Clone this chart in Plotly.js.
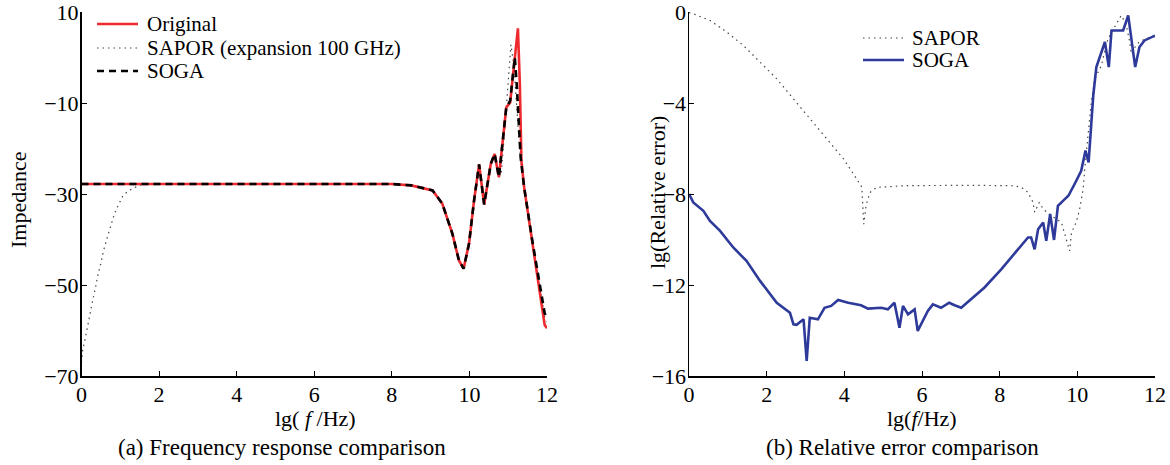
<!DOCTYPE html>
<html><head><meta charset="utf-8">
<script src="https://cdn.plot.ly/plotly-3.0.1.min.js"></script>
<style>html,body{margin:0;padding:0;background:#fff}#chart{width:1170px;height:465px}</style>
</head><body><div id="chart"></div>
<script>
// (a) Frequency response
const origX = [0, 2, 4, 6, 8.0, 8.5, 9.05, 9.3, 9.56, 9.73, 9.85, 9.99, 10.12, 10.25, 10.38, 10.55, 10.65, 10.76, 10.85, 10.95, 11.05, 11.15, 11.25, 11.30, 11.34, 11.41, 11.62, 11.94, 12];
const origY = [-27.8, -27.8, -27.8, -27.8, -27.8, -28.1, -29.2, -32.1, -38.7, -44.6, -46.4, -40.9, -31.4, -23.5, -32.3, -23.4, -21.2, -26.3, -19.0, -11.0, -9.9, -2.2, 6.4, -5.8, -22.7, -28.5, -40.2, -58.8, -59.5];
const sogaX = [0, 2, 4, 6, 8.0, 8.5, 9.05, 9.3, 9.56, 9.73, 9.85, 9.99, 10.12, 10.25, 10.38, 10.55, 10.65, 10.76, 10.85, 10.95, 11.05, 11.12, 11.17, 11.22, 11.28, 11.32, 11.41, 11.62, 11.94, 12];
const sogaY = [-27.8, -27.8, -27.8, -27.8, -27.8, -28.1, -29.2, -32.1, -38.7, -44.6, -46.4, -40.9, -31.4, -23.5, -32.3, -23.4, -21.2, -26.3, -19.0, -11.0, -9.5, -4.0, 0.0, -6.0, -16.7, -21.9, -28.5, -40.2, -56.2, -57.3];
const saporAX = [0, 0.03, 0.10, 0.16, 0.23, 0.29, 0.36, 0.42, 0.50, 0.57, 0.66, 0.75, 0.85, 0.92, 0.98, 1.06, 1.19, 1.32, 1.49, 1.75, 4, 6, 8.0, 8.5, 9.05, 9.3, 9.56, 9.73, 9.85, 9.99, 10.12, 10.25, 10.38, 10.55, 10.65, 10.76, 10.82, 10.9, 11.0, 11.07, 11.15, 11.22, 11.3, 11.41, 11.62, 11.94, 12];
const saporAY = [-67.0, -64.3, -61.6, -58.8, -56.1, -53.3, -50.6, -47.9, -45.2, -42.4, -39.7, -36.9, -34.3, -33.0, -31.8, -30.5, -29.4, -28.9, -28.1, -27.8, -27.8, -27.8, -27.8, -28.1, -29.2, -32.1, -38.7, -44.6, -46.4, -40.9, -31.4, -23.5, -32.3, -23.4, -21.2, -26.3, -25.5, -17.0, -5.0, 2.8, -2.0, -12.0, -21.0, -28.5, -40.2, -57.0, -58.0];

// (b) Relative error
const saporBX = [0, 0.1, 0.54, 0.97, 1.40, 1.83, 2.26, 2.69, 3.12, 3.55, 3.98, 4.32, 4.45, 4.5, 4.56, 4.66, 4.83, 5.6, 6.5, 7.5, 8.37, 8.55, 8.73, 8.86, 8.9, 9.02, 9.12, 9.33, 9.59, 9.8, 9.85, 9.97, 10.06, 10.15, 10.19, 10.28, 10.36, 10.45, 10.62, 10.7, 10.79, 10.96, 11.13, 11.25, 11.35, 11.39, 11.5, 11.6, 11.73, 11.97, 12];
const saporBY = [-0.03, -0.07, -0.37, -0.88, -1.47, -2.2, -2.94, -3.82, -4.7, -5.58, -6.46, -7.34, -7.7, -9.33, -8.5, -7.93, -7.71, -7.63, -7.62, -7.62, -7.64, -7.7, -7.93, -8.37, -8.8, -8.37, -8.66, -8.96, -9.25, -10.5, -9.7, -9.25, -8.66, -7.78, -6.9, -5.43, -3.96, -2.94, -2.35, -1.76, -1.18, -0.66, -0.15, -0.5, -1.32, -1.84, -1.5, -1.3, -1.2, -1.06, -1.05];
const sogaBX = [0, 0.11, 0.37, 0.54, 0.80, 1.14, 1.48, 1.83, 2.26, 2.60, 2.69, 2.77, 2.95, 3.03, 3.11, 3.32, 3.49, 3.66, 3.84, 4.10, 4.43, 4.61, 4.95, 5.12, 5.29, 5.42, 5.51, 5.64, 5.81, 5.89, 6.15, 6.28, 6.49, 6.70, 6.84, 7.01, 7.18, 7.61, 8.04, 8.47, 8.73, 8.81, 8.9, 8.99, 9.12, 9.2, 9.3, 9.4, 9.5, 9.63, 9.77, 9.93, 10.1, 10.21, 10.29, 10.41, 10.49, 10.71, 10.81, 10.88, 11.18, 11.31, 11.49, 11.6, 11.73, 11.97, 12];
const sogaBY = [-8.0, -8.37, -8.74, -9.18, -9.62, -10.35, -10.94, -11.82, -12.78, -13.22, -13.73, -13.75, -13.51, -15.34, -13.44, -13.51, -13.0, -12.92, -12.66, -12.78, -12.89, -13.04, -13.0, -13.07, -12.78, -13.88, -12.92, -13.29, -13.07, -14.02, -13.14, -12.85, -13.0, -12.78, -12.89, -13.0, -12.75, -12.11, -11.31, -10.43, -9.91, -9.91, -10.43, -9.55, -9.25, -10.06, -8.88, -10.02, -8.52, -8.3, -8.08, -7.56, -6.98, -6.09, -6.61, -3.67, -2.42, -1.32, -2.42, -0.81, -0.81, -0.15, -2.42, -1.54, -1.25, -1.06, -1.05];

const xTicks = [0, 2, 4, 6, 8, 10, 12];
const yTicksA = [10, -10, -30, -50, -70];
const yTicksB = [0, -4, -8, -12, -16];
const namesA = ['Original', 'SAPOR (expansion 100 GHz)', 'SOGA'];
const namesB = ['SAPOR', 'SOGA'];

const FONT = 'Liberation Serif, Times New Roman, serif';
const FS = 22;
const W = 1170, H = 465;
const styleOrig = {color: '#ee2a2e', width: 2.6};
const styleDot = {color: '#444', width: 1.2, dash: '1.5px,4px'};
const styleSogaA = {color: '#000', width: 2.6, dash: '7px,5px'};
const styleSogaB = {color: '#2e3a9a', width: 2.6};

const traces = [
  {x: saporAX, y: saporAY, name: namesA[1], mode: 'lines', line: styleDot, xaxis: 'x', yaxis: 'y'},
  {x: origX, y: origY, name: namesA[0], mode: 'lines', line: styleOrig, xaxis: 'x', yaxis: 'y'},
  {x: sogaX, y: sogaY, name: namesA[2], mode: 'lines', line: styleSogaA, xaxis: 'x', yaxis: 'y'},
  {x: saporBX, y: saporBY, name: namesB[0], mode: 'lines', line: styleDot, xaxis: 'x2', yaxis: 'y2'},
  {x: sogaBX, y: sogaBY, name: namesB[1], mode: 'lines', line: styleSogaB, xaxis: 'x2', yaxis: 'y2'}
];

// manual legends (paper coordinates, pixel-based)
const px = v => v / W, py = v => 1 - v / H;
const shapes = [], annotations = [];
function legendItem(x0, x1, y, tx, text, style) {
  shapes.push({type: 'line', xref: 'paper', yref: 'paper', x0: px(x0), x1: px(x1), y0: py(y), y1: py(y), line: style});
  annotations.push({text: text, xref: 'paper', yref: 'paper', x: px(tx), y: py(y), xanchor: 'left', yanchor: 'middle', showarrow: false, font: {family: FONT, size: 21, color: '#000'}});
}
legendItem(97, 138, 24, 145, namesA[0], styleOrig);
legendItem(97, 138, 48, 145, namesA[1], styleDot);
legendItem(97, 138, 71, 145, namesA[2], styleSogaA);
legendItem(863, 904, 38, 910, namesB[0], styleDot);
legendItem(863, 904, 60, 910, namesB[1], styleSogaB);

function txt(text, x, y, opts) {
  annotations.push(Object.assign({text: text, xref: 'paper', yref: 'paper', x: px(x), y: py(y), xanchor: 'center', yanchor: 'middle', showarrow: false, font: {family: FONT, size: FS, color: '#000'}}, opts || {}));
}
txt('Impedance', 18, 200, {textangle: -90});
txt('lg(Relative error)', 657, 193, {textangle: -90});
txt('lg( <i>f</i> /Hz)', 315, 418);
txt('lg(<i>f</i>/Hz)', 922, 418);
txt('(a) Frequency response comparison', 282, 447, {font: {family: FONT, size: 23, color: '#000'}});
txt('(b) Relative error comparison', 902, 447, {font: {family: FONT, size: 23, color: '#000'}});

const axBase = {showgrid: false, zeroline: false, showline: true, linecolor: '#000', linewidth: 1.5, ticks: 'inside', ticklen: 5, tickwidth: 1, tickcolor: '#000', ticklabeloverflow: 'allow', tickfont: {family: FONT, size: FS, color: '#000'}};
const layout = {
  width: W, height: H, margin: {l: 0, r: 0, t: 0, b: 0},
  paper_bgcolor: '#fff', plot_bgcolor: '#fff', showlegend: false,
  font: {family: FONT, color: '#000'},
  xaxis: Object.assign({}, axBase, {domain: [81.5/W, 547/W], range: [0, 12], tickvals: xTicks, anchor: 'y', ticklabelstandoff: -2}),
  yaxis: Object.assign({}, axBase, {domain: [1-376/H, 1-12/H], range: [-70, 10], tickvals: yTicksA, anchor: 'x', ticklabelstandoff: -3}),
  xaxis2: Object.assign({}, axBase, {domain: [689/W, 1155/W], range: [0, 12], tickvals: xTicks, anchor: 'y2', ticklabelstandoff: -2}),
  yaxis2: Object.assign({}, axBase, {domain: [1-376/H, 1-12/H], range: [-16, 0], tickvals: yTicksB, anchor: 'x2', ticklabelstandoff: -3}),
  shapes: shapes,
  annotations: annotations
};
Plotly.newPlot('chart', traces, layout, {staticPlot: true, displayModeBar: false});
</script></body></html>
